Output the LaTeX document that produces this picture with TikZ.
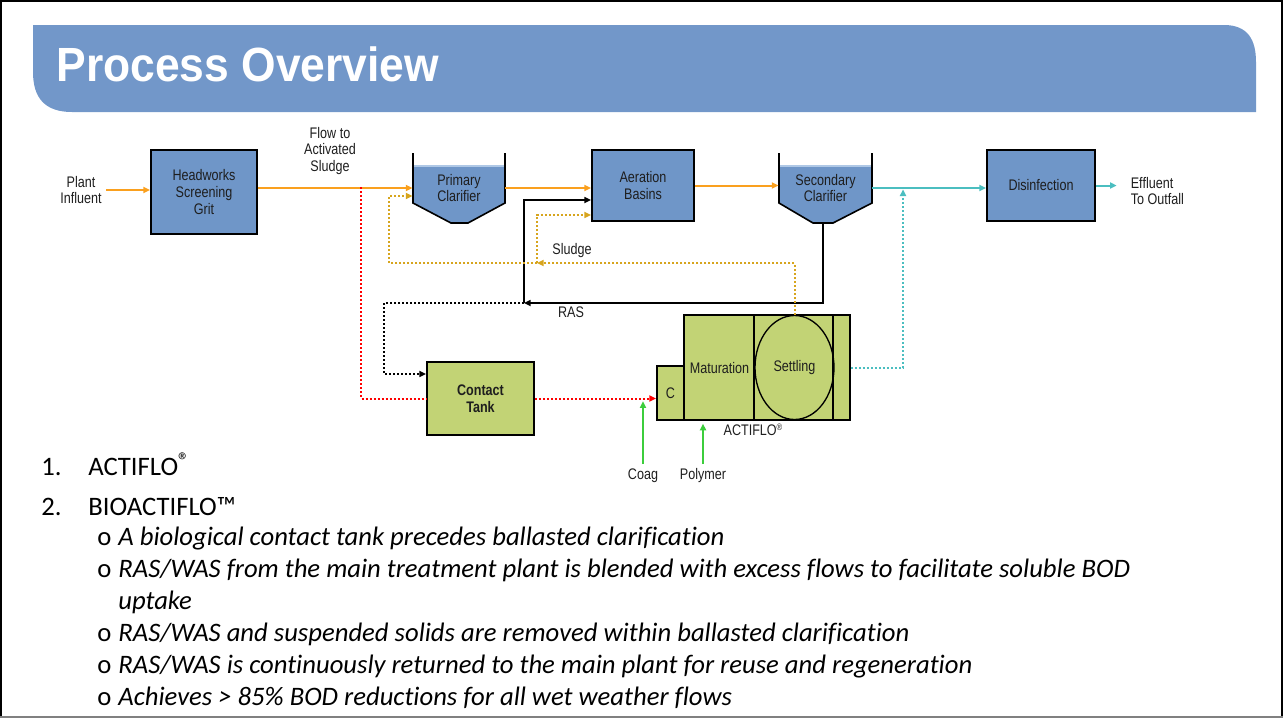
\documentclass[tikz,border=0pt]{standalone}
\usepackage{fontspec}
\setmainfont{Carlito}[Ligatures=NoCommon]
\newfontfamily\titlefont[FakeStretch=0.925]{Liberation Sans}
\newfontfamily\narrowfont[FakeStretch=0.82]{Liberation Sans}
\usetikzlibrary{arrows.meta,shapes.geometric}

\definecolor{bannerblue}{RGB}{114,151,201}
\definecolor{unitblue}{RGB}{111,150,200}
\definecolor{waterline}{RGB}{175,200,230}
\definecolor{biogreen}{RGB}{194,211,117}
\definecolor{floworange}{RGB}{250,160,30}
\definecolor{effteal}{RGB}{75,190,192}
\definecolor{sludgegold}{RGB}{215,165,30}
\definecolor{chemgreen}{RGB}{60,205,60}
\definecolor{labelgray}{RGB}{30,30,30}

\tikzset{
  every path/.style={semithick},
  lbl/.style={font=\narrowfont\fontsize{11.5}{12.6}\selectfont,text=labelgray,align=center},
  unit/.style={lbl,draw,line width=1.4pt,fill=unitblue,inner sep=0pt},
  bio/.style={lbl,draw,line width=1.4pt,fill=biogreen,inner sep=0pt},
  flow/.style={->,floworange,line width=1.5pt},
  outflow/.style={->,effteal,line width=1.5pt},
  dots/.style={line width=1.5pt,dash pattern=on 1.5pt off 1.5pt},
  bypass/.style={dots,red},
  sludge/.style={dots,sludgegold},
  rasback/.style={dots,black},
  overflow/.style={dots,effteal},
  ras/.style={black,line width=1.2pt},
  chem/.style={->,chemgreen,line width=1.5pt},
  listtext/.style={anchor=base west,inner sep=0pt,font=\fontsize{20}{24}\selectfont},
  note/.style={listtext,font=\fontsize{20}{24}\selectfont\itshape},
}

\begin{document}
\begin{tikzpicture}[x=0.75pt,y=-0.75pt,>={Triangle[length=5pt,width=4.5pt]}]
  \useasboundingbox (0,0) rectangle (1283,719);

  % frame and title bar
  \draw[line width=2pt] (1,716) -- (1,1) -- (1282,1) -- (1282,716);
  \draw[gray,line width=1.5pt] (0,716.5) -- (1283,716.5);
  \fill[bannerblue] (33,25) -- (1224,25) .. controls (1248,25) and (1256,40) .. (1256,62)
    -- (1256,112) -- (72,112) .. controls (45,112) and (33,98) .. (33,72) -- cycle;
  \node[anchor=base west,inner sep=0pt,text=white,font=\titlefont\bfseries\fontsize{36}{40}\selectfont]
    (title) at (56,81) {Process Overview};

  % clarifier tanks
  \fill[unitblue] (413,166) -- (505,166) -- (505,203) -- (468,223) -- (451,223) -- (413,203) -- cycle;
  \draw[waterline,line width=1pt] (413,166) -- (505,166);
  \draw[line width=1.2pt] (413,153) -- (413,203) -- (451,223) -- (468,223) -- (505,203) -- (505,153);
  \fill[unitblue] (779,166) -- (872,166) -- (872,203) -- (833,223) -- (813,223) -- (779,203) -- cycle;
  \draw[waterline,line width=1pt] (779,166) -- (872,166);
  \draw[line width=1.2pt] (779,153) -- (779,203) -- (813,223) -- (833,223) -- (872,203) -- (872,153);

  % units
  \node[lbl] (infl) at (81,190) {Plant\\Influent};
  \node[unit,minimum width=79.5pt,minimum height=63pt] (hw) at (204,192) {Headworks\\Screening\\Grit};
  \node[lbl] (fas) at (330,151) {Flow to\\Activated\\Sludge};
  \node[lbl,minimum width=69pt,minimum height=52.5pt] (pc) at (459,188) {Primary\\Clarifier};
  \node[unit,minimum width=76.5pt,minimum height=53.25pt] (ab) at (643,185.5) {Aeration\\Basins};
  \node[lbl,minimum width=69.75pt,minimum height=52.5pt] (sc) at (825.5,188) {Secondary\\Clarifier};
  \node[unit,minimum width=81pt,minimum height=53.25pt] (dis) at (1041,185.5) {Disinfection};
  \node[lbl,align=left,anchor=west] (eff) at (1126,191) {Effluent\\To Outfall};
  \node[bio,minimum width=80.25pt,minimum height=54.75pt,font=\narrowfont\bfseries\fontsize{11.5}{12.6}\selectfont]
    (ct) at (480.5,398.5) {Contact\\Tank};

  % actiflo train
  \node[bio,minimum width=124.5pt,minimum height=78.75pt] (act) at (767,367.5) {};
  \node[bio,minimum width=20.25pt,minimum height=40.5pt] (cbox) at (670.5,393) {C};
  \draw[line width=1.4pt] ([xshift=53.25pt]act.north west) -- ([xshift=53.25pt]act.south west);
  \draw[line width=1.4pt] ([xshift=112.5pt]act.north west) -- ([xshift=112.5pt]act.south west);
  \node[lbl,draw,ellipse,line width=1pt,inner sep=0pt,minimum width=59.25pt,minimum height=78pt]
    (settle) at (794.5,367.5) {\raisebox{-2pt}{Settling}};
  \node[lbl] (mat) at (719.5,368) {Maturation};
  \node[lbl] (actlbl) at (753,430) {ACTIFLO\raisebox{0.6ex}{\fontsize{7}{7}\selectfont ®}};
  \node[lbl] (coag) at (643,476) {Coag};
  \node[lbl] (poly) at (703,476) {Polymer};
  \node[lbl] (sludgelbl) at (572,251) {Sludge};
  \node[lbl] (raslbl) at (571,312) {RAS};

  % main flow
  \draw[flow] (infl.east) -- (infl.east -| hw.west);
  \draw[flow] (hw.east |- pc.west) -- (pc.west);
  \draw[flow] (pc.east) -- (pc.east -| ab.west);
  \draw[flow] (ab.east) -- (ab.east -| sc.west);
  \draw[outflow] (sc.east) -- (sc.east -| dis.west);
  \draw[outflow,shorten >=7pt] (dis.east) -- (dis.east -| eff.west);

  % wet weather side stream
  \coordinate (split) at (361,187);
  \draw[bypass] (split) |- (ct.west);
  \draw[bypass,->] (ct.east) -- (ct.east -| cbox.west);
  \draw[chem,shorten >=2pt] (coag.north) -- (coag.north |- ct.east);
  \draw[chem,shorten >=2pt] (poly.north) -- (poly.north |- act.south);
  \coordinate (effj) at (903,188);
  \draw[overflow,->,shorten >=1pt] (act.east) -| (effj);

  % returns
  \coordinate (rasj) at (524,303);
  \draw[ras,->] (sc.south -| 823,0) |- (rasj);
  \draw[ras,->] (rasj) |- ([yshift=-10.9pt]ab.west);
  \draw[rasback,->] (rasj) -- ++(-140,0) |- ([yshift=18.4pt]ct.west);
  \coordinate (sludgej) at (537,263);
  \draw[sludge,->] (settle.north) |- (sludgej);
  \draw[sludge,->] (sludgej) -- ++(-148,0) |- ([yshift=-6pt]pc.west);
  \draw[sludge,->] (sludgej) |- ([yshift=-22.1pt]ab.west);

  % list
  \node[listtext] (n1) at (41,475) {1.};
  \node[listtext] (i1) at (88,475) {ACTIFLO\raisebox{0.5ex}{\fontsize{17}{17}\selectfont ®}};
  \node[listtext] (n2) at (41,515) {2.};
  \node[listtext] (i2) at (88,515) {BIOACTIFLO™};
  \foreach \y in {545,577,641,673,705}
    \node[listtext] (b\y) at (97,\y) {o};
  \node[note] (t1) at (118,545) {A biological contact tank precedes ballasted clarification};
  \node[note] (t2) at (118,577) {RAS/WAS from the main treatment plant is blended with excess flows to facilitate soluble BOD};
  \node[note] (t2b) at (118,609) {uptake};
  \node[note] (t3) at (118,641) {RAS/WAS and suspended solids are removed within ballasted clarification};
  \node[note] (t4) at (118,673) {RAS/WAS is continuously returned to the main plant for reuse and regeneration};
  \node[note] (t5) at (118,705) {Achieves > 85\% BOD reductions for all wet weather flows};
\end{tikzpicture}
\end{document}
